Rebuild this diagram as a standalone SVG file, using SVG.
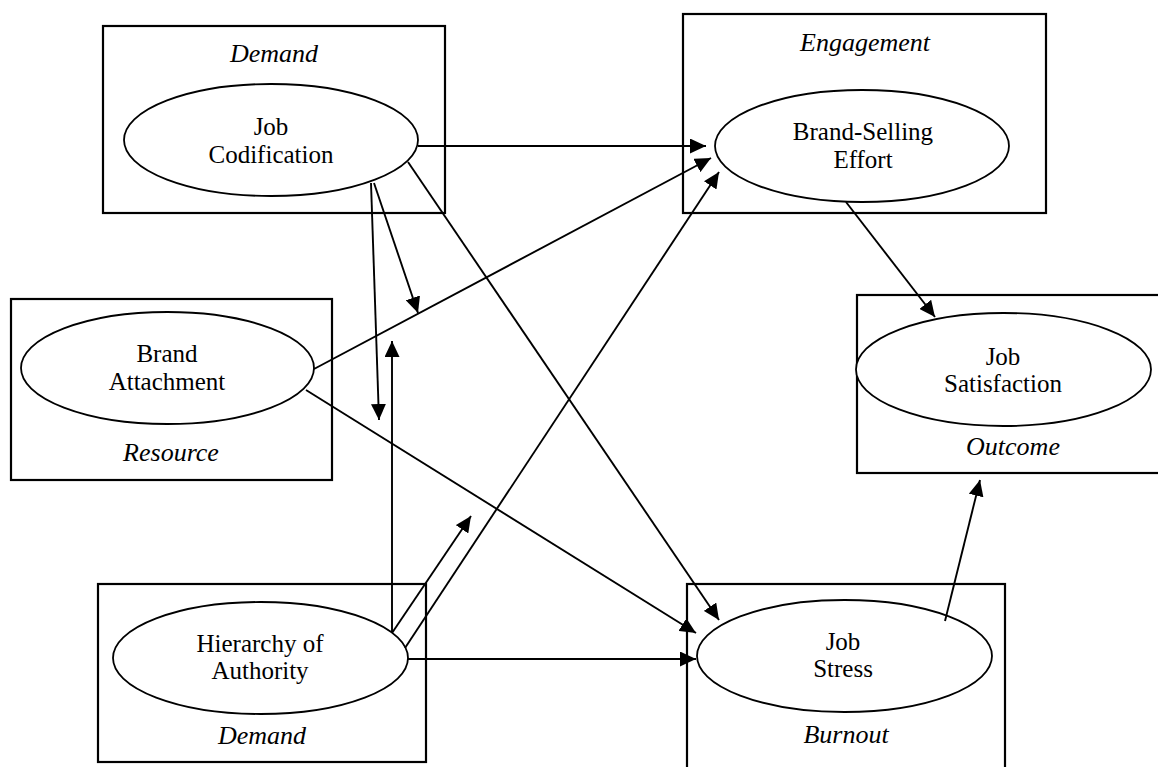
<svg xmlns="http://www.w3.org/2000/svg" width="1158" height="767" viewBox="0 0 1158 767">
  <style>
    .box { fill: none; stroke: #000; stroke-width: 2.2; }
    .oval { fill: #fff; stroke: #000; stroke-width: 1.8; }
    .name { font-family: "Liberation Serif", "Times New Roman", serif; font-size: 25px; fill: #000; text-anchor: middle; }
    .kind { font-family: "Liberation Serif", "Times New Roman", serif; font-size: 26px; font-style: italic; fill: #000; text-anchor: middle; }
    .edge { fill: none; stroke: #000; stroke-width: 1.9; marker-end: url(#head); }
  </style>
  <defs>
    <marker id="head" viewBox="0 0 16 15" refX="16" refY="7.5" markerWidth="16" markerHeight="15" markerUnits="userSpaceOnUse" orient="auto">
      <path d="M0,0 L16,7.5 L0,15 Z" fill="#000"/>
    </marker>
  </defs>
  <rect width="1158" height="767" fill="#fff"/>

  <!-- Demand: Job Codification -->
  <g id="job-codification">
    <rect class="box" x="103" y="26" width="342" height="187"/>
    <text class="kind" x="274" y="62">Demand</text>
    <ellipse class="oval" cx="271" cy="140" rx="147" ry="56"/>
    <text class="name" x="271" y="135">Job</text>
    <text class="name" x="271" y="163">Codification</text>
  </g>

  <!-- Engagement: Brand-Selling Effort -->
  <g id="brand-selling-effort">
    <rect class="box" x="683" y="14" width="363" height="199"/>
    <text class="kind" x="865" y="51">Engagement</text>
    <ellipse class="oval" cx="862" cy="146" rx="147" ry="56"/>
    <text class="name" x="863" y="140">Brand-Selling</text>
    <text class="name" x="863" y="168">Effort</text>
  </g>

  <!-- Resource: Brand Attachment -->
  <g id="brand-attachment">
    <rect class="box" x="11" y="299" width="321" height="181"/>
    <ellipse class="oval" cx="167.5" cy="368" rx="146.5" ry="56"/>
    <text class="name" x="167" y="362">Brand</text>
    <text class="name" x="167" y="390">Attachment</text>
    <text class="kind" x="171" y="461">Resource</text>
  </g>

  <!-- Outcome: Job Satisfaction -->
  <g id="job-satisfaction">
    <rect class="box" x="857" y="295" width="305" height="178"/>
    <ellipse class="oval" cx="1003.5" cy="369.5" rx="147.5" ry="56.5"/>
    <text class="name" x="1003" y="365">Job</text>
    <text class="name" x="1003" y="392">Satisfaction</text>
    <text class="kind" x="1013" y="455">Outcome</text>
  </g>

  <!-- Demand: Hierarchy of Authority -->
  <g id="hierarchy-of-authority">
    <rect class="box" x="98" y="584" width="328" height="178"/>
    <ellipse class="oval" cx="260.5" cy="658" rx="147.5" ry="56"/>
    <text class="name" x="260" y="652">Hierarchy of</text>
    <text class="name" x="260" y="679">Authority</text>
    <text class="kind" x="262" y="744">Demand</text>
  </g>

  <!-- Burnout: Job Stress -->
  <g id="job-stress">
    <rect class="box" x="687" y="584" width="318" height="190"/>
    <ellipse class="oval" cx="844.5" cy="656" rx="147.5" ry="56"/>
    <text class="name" x="843" y="650">Job</text>
    <text class="name" x="843" y="677">Stress</text>
    <text class="kind" x="846" y="743">Burnout</text>
  </g>

  <!-- paths between constructs -->
  <g id="connectors">
    <line class="edge" x1="418" y1="146" x2="706" y2="146"/>
    <line class="edge" x1="314" y1="369" x2="711" y2="158"/>
    <line class="edge" x1="405" y1="648" x2="719" y2="172"/>
    <line class="edge" x1="408" y1="162" x2="719" y2="620"/>
    <line class="edge" x1="306" y1="390" x2="696" y2="633"/>
    <line class="edge" x1="408" y1="659" x2="696" y2="659"/>
    <line class="edge" x1="846" y1="202" x2="935" y2="317"/>
    <line class="edge" x1="945" y1="621" x2="980" y2="480"/>
    <line class="edge" x1="371" y1="183" x2="379" y2="420"/>
    <line class="edge" x1="374" y1="183" x2="418" y2="313"/>
    <line class="edge" x1="392" y1="632" x2="392" y2="341"/>
    <line class="edge" x1="392" y1="633" x2="471" y2="516"/>
  </g>
</svg>
